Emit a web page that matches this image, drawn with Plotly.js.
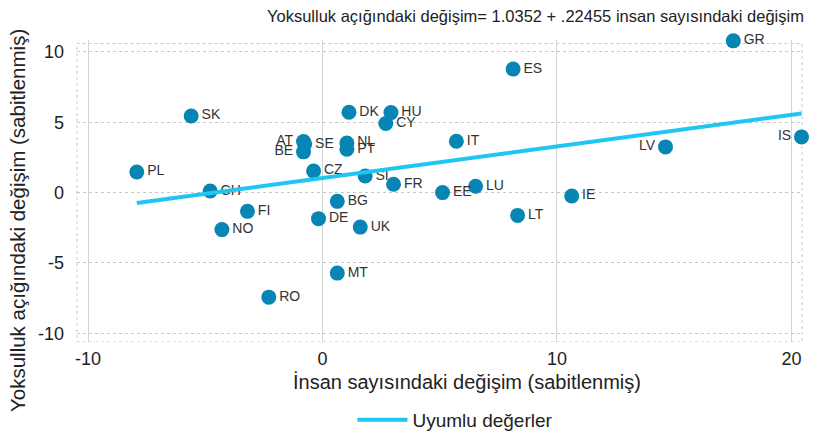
<!DOCTYPE html>
<html>
<head>
<meta charset="utf-8">
<script src="https://cdn.plot.ly/plotly-3.0.1.min.js"></script>
<style>html,body{margin:0;padding:0;background:#fff;}#chart{width:813px;height:432px;}</style>
</head>
<body>
<div id="chart"></div>
<script>
const countries = ["PL","SK","CH","FI","NO","RO","AT","SE","BE","CZ","DK","HU","CY","NL","PT","SI","FR","BG","DE","UK","MT","GR","ES","IT","LV","IS","EE","LU","LT","IE"];
const headcountChange = [-7.92,-5.60,-4.79,-3.20,-4.29,-2.29,-0.81,-0.76,-0.81,-0.38,1.13,2.92,2.70,1.04,1.04,1.82,3.03,0.63,-0.17,1.61,0.63,17.52,8.13,5.71,14.63,20.43,5.12,6.53,8.32,10.63];
const gapChange = [1.47,5.45,0.11,-1.33,-2.63,-7.43,3.63,3.45,2.90,1.54,5.71,5.69,4.91,3.53,3.08,1.18,0.59,-0.62,-1.85,-2.45,-5.72,10.79,8.78,3.65,3.25,3.96,0.0,0.45,-1.62,-0.24];
const intercept = 1.0352;
const slope = 0.22455;
const leftLabeled = ["AT","BE","LV","IS"];

const xMin = Math.min(...headcountChange), xMax = Math.max(...headcountChange);
const fitX = [xMin, xMax];
const fitY = fitX.map(v => intercept + slope * v);

const font = "'Liberation Sans', Arial, sans-serif";

const pts = {
  type: "scatter", mode: "markers+text",
  x: headcountChange, y: gapChange, text: countries,
  textposition: countries.map(c => leftLabeled.includes(c) ? "middle left" : "middle right"),
  textfont: {family: font, size: 14, color: "#333"},
  marker: {size: 15, color: "#0785b5"},
  showlegend: false, cliponaxis: false, hoverinfo: "skip"
};
const fit = {
  type: "scatter", mode: "lines", x: fitX, y: fitY,
  name: "Uyumlu değerler",
  line: {color: "#20c5f2", width: 4},
  cliponaxis: false
};

const layout = {
  width: 813, height: 432,
  margin: {l: 77, r: 11, t: 40, b: 90},
  paper_bgcolor: "#fff", plot_bgcolor: "#fff",
  font: {family: font, size: 18, color: "#222"},
  xaxis: {
    range: [-10.47, 20.45], tickvals: [-10, 0, 10, 20], ticktext: ["-10","0","10","20"],
    showgrid: true, gridcolor: "#d4d4d4", gridwidth: 1, zeroline: false, showline: false,
    ticks: "", ticklabelstandoff: 4, automargin: false,
    tickfont: {size: 18, color: "#222"}
  },
  yaxis: {
    range: [-10.62, 10.85], tickvals: [-10, -5, 0, 5, 10], ticktext: ["-10","-5","0","5","10"],
    showgrid: true, gridcolor: "#c8c8c8", gridwidth: 1, griddash: "dot", zeroline: false, showline: false,
    ticks: "", ticklabelstandoff: 12, automargin: false,
    tickfont: {size: 18, color: "#222"}
  },
  shapes: [
    {type: "rect", xref: "paper", yref: "y", x0: 0, x1: 1, y0: -10.62, y1: 10.6,
     line: {color: "#c8c8c8", width: 1, dash: "dot"}, layer: "below"}
  ],
  annotations: [
    {xref: "paper", yref: "paper", x: 1, y: 1, xanchor: "right", yanchor: "bottom", yshift: 13, xshift: 4,
     text: "Yoksulluk açığındaki değişim= 1.0352 + .22455 insan sayısındaki değişim",
     showarrow: false, font: {family: font, size: 16.5, color: "#222"}},
    {xref: "paper", yref: "paper", x: 0, y: 0.5, xanchor: "center", yanchor: "middle",
     xshift: -60, yshift: -30, textangle: -90,
     text: "Yoksulluk açığındaki değişim (sabitlenmiş)",
     showarrow: false, font: {family: font, size: 20.5, color: "#222"}},
    {xref: "paper", yref: "paper", x: 0.5386, y: 0, xanchor: "center", yanchor: "middle",
     yshift: -40,
     text: "İnsan sayısındaki değişim (sabitlenmiş)",
     showarrow: false, font: {family: font, size: 20, color: "#222"}}
  ],
  legend: {orientation: "h", x: 0.522, xanchor: "center", yref: "container", y: 0.028, yanchor: "middle",
           itemwidth: 50, font: {size: 19, color: "#222"}},
  showlegend: true
};

Plotly.newPlot("chart", [pts, fit], layout, {displayModeBar: false, staticPlot: true});
</script>
</body>
</html>
